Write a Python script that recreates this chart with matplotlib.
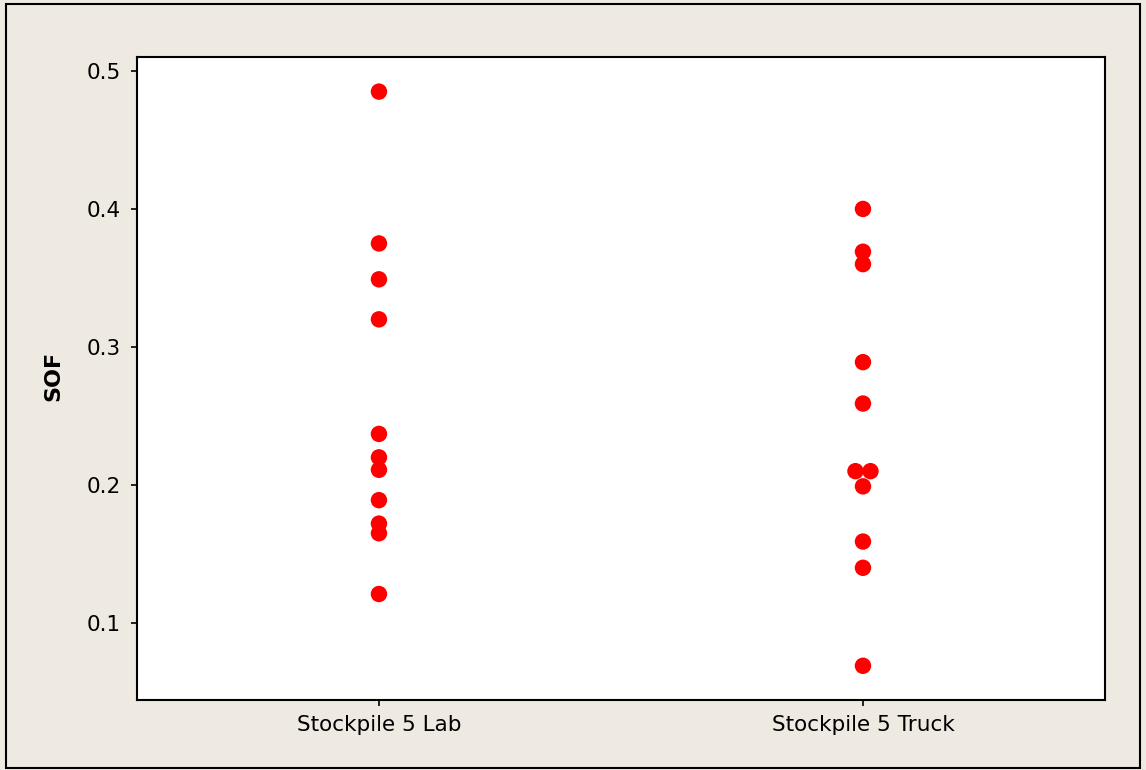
import numpy as np
import matplotlib.pyplot as plt
from matplotlib.patches import Rectangle

# data
categories = ["Stockpile 5 Lab", "Stockpile 5 Truck"]
lab_sof = [0.485, 0.375, 0.349, 0.320, 0.237, 0.220, 0.211, 0.189, 0.172, 0.165, 0.121]
truck_sof = [0.400, 0.369, 0.360, 0.289, 0.259, 0.210, 0.210, 0.199, 0.159, 0.140, 0.069]
yticks = [0.1, 0.2, 0.3, 0.4, 0.5]

bg = "#EEEAE1"
fig = plt.figure(figsize=(11.46, 7.70), dpi=100, facecolor=bg)
ax = fig.add_axes([0.1195, 0.0909, 0.8447, 0.8351])
ax.set_facecolor("white")

# Minitab places tied values side by side
step = 0.031
for i, vals in enumerate([lab_sof, truck_sof]):
    vals = np.array(vals)
    xs = np.full(len(vals), float(i))
    for v in np.unique(vals):
        idx = np.where(vals == v)[0]
        n = len(idx)
        if n > 1:
            xs[idx] = i + (np.arange(n) - (n - 1) / 2) * step
    ax.scatter(xs, vals, s=140, color="#FF0000", edgecolors="none", zorder=3)

ax.set_xlim(-0.5, 1.5)
ax.set_ylim(0.0442, 0.5101)
ax.set_xticks([0, 1])
ax.set_xticklabels(categories, fontsize=15.5)
ax.set_yticks(yticks)
ax.set_yticklabels([f"{t:.1f}" for t in yticks], fontsize=15.5)
ax.tick_params(direction="out", length=4.5, width=1.2, color="black")
ax.tick_params(axis="x", pad=6)
ax.tick_params(axis="y", pad=7)
ax.set_ylabel("SOF", fontsize=16, fontweight="bold")
ax.yaxis.set_label_coords(-0.0764, 0.504)
for sp in ax.spines.values():
    sp.set_linewidth(1.5)
    sp.set_color("black")

# outer border of the graph window
fig.patches.append(Rectangle((0.005, 0.003), 0.99, 0.992, transform=fig.transFigure,
                             fill=False, edgecolor="black", linewidth=1.5))

fig.savefig("out.png", dpi=100, facecolor=bg)
